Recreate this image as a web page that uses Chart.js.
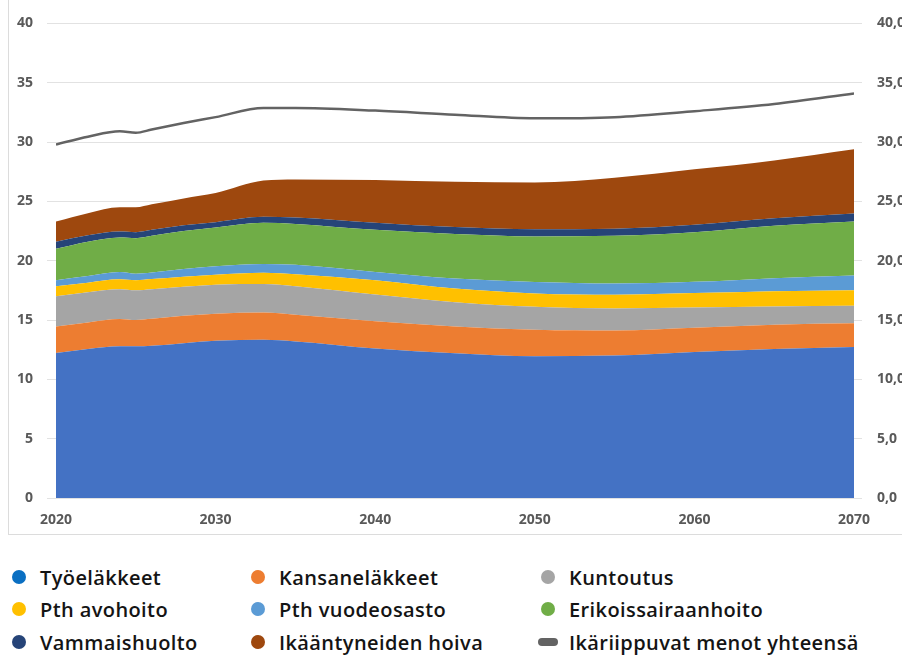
<!DOCTYPE html>
<html>
<head>
<meta charset="utf-8">
<script src="https://cdn.jsdelivr.net/npm/chart.js@4.4.1/dist/chart.umd.min.js"></script>
<style>
  html, body { margin: 0; padding: 0; background: #fff; overflow: hidden; width: 902px; height: 658px; }
  #frame { position: absolute; left: 8px; top: -2px; width: 1000px; height: 537px; border: 1px solid #dcdcdc; box-sizing: border-box; }
  #c { position: absolute; left: 0; top: 0; }
  .lg { position: absolute; display: flex; align-items: center; font-family: "Open Sans", sans-serif; font-weight: 600; font-size: 20px; letter-spacing: 0.4px; color: #141414; white-space: nowrap; height: 26px; }
  .mk { display: inline-block; width: 14px; height: 14px; border-radius: 50%; margin-right: 14px; }
  .mk.line { width: 20px; height: 8px; border-radius: 4px; margin-left: -3px; margin-right: 11px; }
</style>
</head>
<body>
<div id="frame"></div>
<canvas id="c" width="930" height="536"></canvas>
<div id="legend"></div>
<script>
const years = [2020, 2022, 2024, 2025, 2026, 2028, 2030, 2033, 2035, 2040, 2045, 2050, 2055, 2060, 2065, 2070];
const tyoelakkeet      = [12.22, 12.55, 12.78, 12.78, 12.83, 13.05, 13.25, 13.33, 13.20, 12.60, 12.20, 11.95, 12.00, 12.30, 12.55, 12.72];
const kansanelakkeet   = [2.23, 2.25, 2.31, 2.22, 2.27, 2.30, 2.28, 2.31, 2.25, 2.30, 2.25, 2.22, 2.11, 2.05, 2.05, 2.00];
const kuntoutus        = [2.55, 2.55, 2.51, 2.50, 2.50, 2.45, 2.45, 2.40, 2.40, 2.25, 2.05, 1.95, 1.87, 1.70, 1.55, 1.48];
const pthAvohoito      = [0.84, 0.80, 0.83, 0.85, 0.85, 0.85, 0.84, 0.95, 1.00, 1.20, 1.15, 1.12, 1.15, 1.22, 1.28, 1.31];
const pthVuodeosasto   = [0.51, 0.55, 0.61, 0.55, 0.55, 0.65, 0.72, 0.74, 0.80, 0.70, 0.85, 0.97, 0.95, 0.95, 1.10, 1.25];
const erikoissairaanhoito = [2.65, 2.90, 2.92, 3.00, 3.10, 3.20, 3.26, 3.47, 3.45, 3.55, 3.75, 3.84, 4.02, 4.18, 4.42, 4.54];
const vammaishuolto    = [0.60, 0.55, 0.50, 0.50, 0.50, 0.48, 0.45, 0.50, 0.55, 0.60, 0.58, 0.60, 0.60, 0.63, 0.63, 0.67];
const ikaantyneidenHoiva = [1.70, 1.85, 2.04, 2.10, 2.15, 2.27, 2.45, 3.05, 3.20, 3.60, 3.82, 3.95, 4.30, 4.67, 4.87, 5.43];
const yhteensa         = [29.80, 30.45, 30.90, 30.78, 31.06, 31.60, 32.10, 32.87, 32.87, 32.65, 32.30, 32.00, 32.10, 32.60, 33.20, 34.10];

const yTicksLeft = [0, 5, 10, 15, 20, 25, 30, 35, 40];
const xTickYears = [2020, 2030, 2040, 2050, 2060, 2070];

const areaSeries = [
  { label: "Työeläkkeet", values: tyoelakkeet, color: "#4472C4", legendColor: "#0a6fc2" },
  { label: "Kansaneläkkeet", values: kansanelakkeet, color: "#ED7D31", legendColor: "#ED7D31" },
  { label: "Kuntoutus", values: kuntoutus, color: "#A5A5A5", legendColor: "#A5A5A5" },
  { label: "Pth avohoito", values: pthAvohoito, color: "#FFC000", legendColor: "#FFC000" },
  { label: "Pth vuodeosasto", values: pthVuodeosasto, color: "#5B9BD5", legendColor: "#5B9BD5" },
  { label: "Erikoissairaanhoito", values: erikoissairaanhoito, color: "#70AD47", legendColor: "#70AD47" },
  { label: "Vammaishuolto", values: vammaishuolto, color: "#264478", legendColor: "#264478" },
  { label: "Ikääntyneiden hoiva", values: ikaantyneidenHoiva, color: "#9E480E", legendColor: "#9E480E" }
];
const lineSeries = { label: "Ikäriippuvat menot yhteensä", values: yhteensa, color: "#636363" };

const toPts = arr => years.map((x, i) => ({ x: x, y: arr[i] }));

const datasets = areaSeries.map((s, i) => ({
  label: s.label,
  data: toPts(s.values),
  backgroundColor: s.color,
  borderColor: s.color,
  borderWidth: 0,
  pointRadius: 0,
  fill: i === 0 ? 'origin' : '-1',
  cubicInterpolationMode: 'monotone',
  yAxisID: 'y'
}));
datasets.push({
  label: lineSeries.label,
  data: toPts(lineSeries.values),
  borderColor: lineSeries.color,
  backgroundColor: lineSeries.color,
  borderWidth: 2.5,
  pointRadius: 0,
  fill: false,
  cubicInterpolationMode: 'monotone',
  yAxisID: 'y2',
  order: -1
});

const tickFont = { family: "'Open Sans', sans-serif", size: 14, weight: 'bold' };
const tickColor = "#595959";
const gridColor = "#e2e2e2";

new Chart(document.getElementById('c'), {
  type: 'line',
  data: { datasets: datasets },
  options: {
    responsive: false,
    animation: false,
    layout: { padding: { top: 19, left: 0, right: 0, bottom: 0 } },
    plugins: { legend: { display: false }, tooltip: { enabled: false } },
    scales: {
      x: {
        type: 'linear', min: 2020, max: 2070,
        afterBuildTicks: s => { s.ticks = xTickYears.map(v => ({ value: v })); },
        ticks: { callback: v => String(v), font: tickFont, color: tickColor, padding: 14, maxRotation: 0, autoSkip: false },
        grid: { display: false, drawTicks: false },
        border: { display: false },
        afterFit: s => { s.height = 38; }
      },
      y: {
        stacked: true, position: 'left', min: 0, max: 40,
        afterBuildTicks: s => { s.ticks = yTicksLeft.map(v => ({ value: v })); },
        ticks: { font: tickFont, color: tickColor, padding: 14, callback: v => String(v) },
        grid: { color: gridColor, tickLength: 9, lineWidth: 1 },
        border: { display: false },
        afterFit: s => { s.width = 56; }
      },
      y2: {
        position: 'right', min: 0, max: 40,
        afterBuildTicks: s => { s.ticks = yTicksLeft.map(v => ({ value: v })); },
        ticks: { font: tickFont, color: tickColor, padding: 15, callback: v => v.toFixed(1).replace('.', ',') },
        grid: { drawOnChartArea: false, color: gridColor, tickLength: 8 },
        border: { display: false },
        afterFit: s => { s.width = 76; }
      }
    }
  }
});

// HTML legend, 3 columns x 3 rows
const legendItems = areaSeries.map(s => ({ label: s.label, color: s.legendColor, line: false }))
  .concat([{ label: lineSeries.label, color: lineSeries.color, line: true }]);
const colX = [12, 251, 541];
const rowY = [564, 596, 629];
const lg = document.getElementById('legend');
legendItems.forEach((it, i) => {
  const d = document.createElement('div');
  d.className = 'lg';
  d.style.left = colX[i % 3] + 'px';
  d.style.top = rowY[Math.floor(i / 3)] + 'px';
  const m = document.createElement('span');
  m.className = 'mk' + (it.line ? ' line' : '');
  m.style.background = it.color;
  d.appendChild(m);
  d.appendChild(document.createTextNode(it.label));
  lg.appendChild(d);
});
</script>
</body>
</html>
